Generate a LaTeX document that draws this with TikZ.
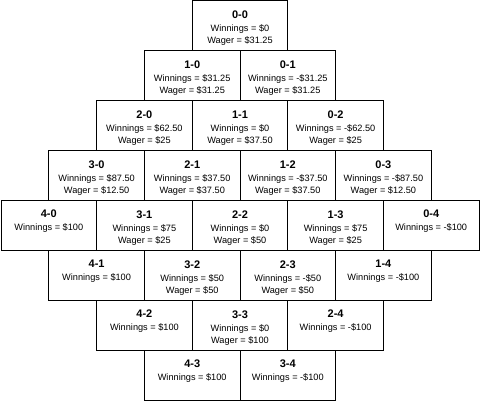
\documentclass[tikz,border=0pt]{standalone}
\usepackage{fontspec}
\setmainfont{Liberation Sans}
\tikzset{
  cellbox/.style={draw=black, line width=0.9pt, minimum width=95.6pt, minimum height=50pt, inner sep=0pt},
  celltxt/.style={anchor=north, align=center, inner sep=0pt, font=\fontsize{9.2}{12}\selectfont},
}
\newcommand\cellnode[4][-10pt]{%
  \node[cellbox, label={[celltxt, yshift=#1]north:{{\fontsize{11}{12}\selectfont\bfseries #2-#3}\\[1.5pt]#4}}]
    (c#2#3) at ({240+(#3-#2)*47.8},{-25.7-50*(#2+#3)}) {};%
}
\begin{document}
\begin{tikzpicture}[x=1pt,y=1pt]
\useasboundingbox (0,0) rectangle (480,-402);
% row 0
\cellnode{0}{0}{Winnings = \$0\\Wager = \$31.25}
% row 1
\cellnode{1}{0}{Winnings = \$31.25\\Wager = \$31.25}
\cellnode{0}{1}{Winnings = -\$31.25\\Wager = \$31.25}
% row 2
\cellnode{2}{0}{Winnings = \$62.50\\Wager = \$25}
\cellnode{1}{1}{Winnings = \$0\\Wager = \$37.50}
\cellnode{0}{2}{Winnings = -\$62.50\\Wager = \$25}
% row 3
\cellnode{3}{0}{Winnings = \$87.50\\Wager = \$12.50}
\cellnode{2}{1}{Winnings = \$37.50\\Wager = \$37.50}
\cellnode{1}{2}{Winnings = -\$37.50\\Wager = \$37.50}
\cellnode{0}{3}{Winnings = -\$87.50\\Wager = \$12.50}
% row 4
\cellnode[-9pt]{4}{0}{Winnings = \$100}
\cellnode{3}{1}{Winnings = \$75\\Wager = \$25}
\cellnode{2}{2}{Winnings = \$0\\Wager = \$50}
\cellnode{1}{3}{Winnings = \$75\\Wager = \$25}
\cellnode[-9pt]{0}{4}{Winnings = -\$100}
% row 5
\cellnode[-9pt]{4}{1}{Winnings = \$100}
\cellnode{3}{2}{Winnings = \$50\\Wager = \$50}
\cellnode{2}{3}{Winnings = -\$50\\Wager = \$50}
\cellnode[-9pt]{1}{4}{Winnings = -\$100}
% row 6
\cellnode[-9pt]{4}{2}{Winnings = \$100}
\cellnode{3}{3}{Winnings = \$0\\Wager = \$100}
\cellnode[-9pt]{2}{4}{Winnings = -\$100}
% row 7
\cellnode[-9pt]{4}{3}{Winnings = \$100}
\cellnode[-9pt]{3}{4}{Winnings = -\$100}
\end{tikzpicture}
\end{document}
